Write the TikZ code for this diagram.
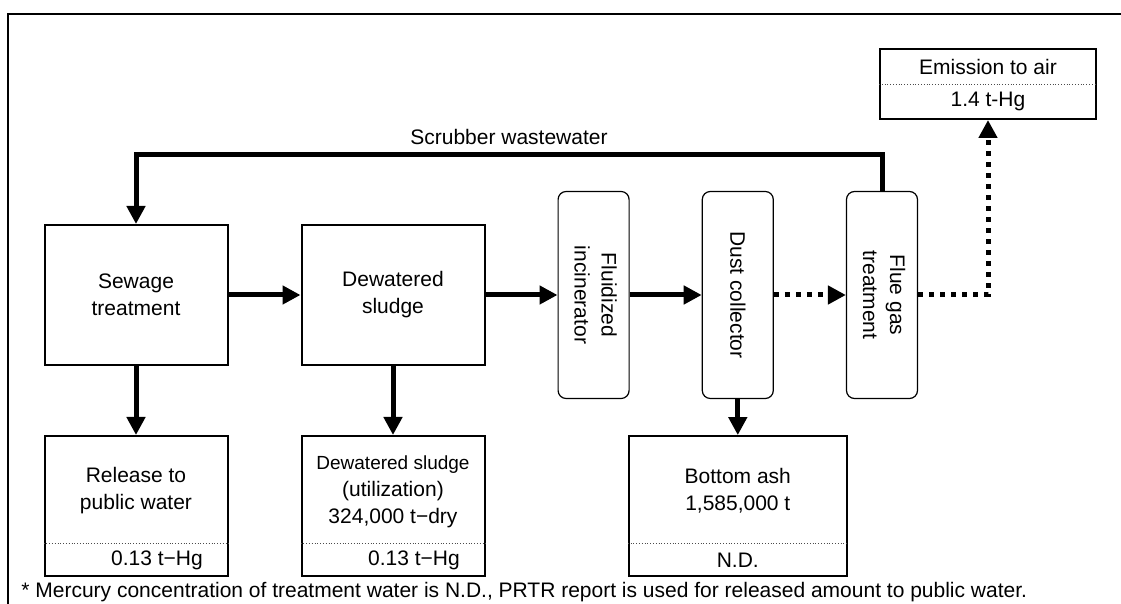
\documentclass[tikz,border=0pt]{standalone}
\usepackage{fontspec}
\setmainfont{Liberation Sans}
\usetikzlibrary{arrows.meta, positioning}
\tikzstyle{box} = [rectangle, draw, line width=1pt, minimum width=91.5pt,
  minimum height=70pt, align=center, inner sep=0pt]
\tikzstyle{unit} = [rectangle, draw, rounded corners=4pt, line width=0.6pt,
  minimum width=35.5pt, minimum height=103.5pt, inner sep=0pt]
\tikzstyle{txt} = [align=center, inner sep=0pt]
\tikzstyle{divider} = [line width=0.4pt, densely dotted, black!70]
\tikzstyle{arrow} = [line width=2.5pt, -{Triangle[length=9pt, width=9pt]}]
\tikzstyle{dotarrow} = [arrow, dash pattern=on 2.5pt off 3pt]

\begin{document}
\begin{tikzpicture}[x=0.5pt, y=-0.5pt, font=\fontsize{10.5}{13.5}\selectfont]
    \useasboundingbox (0,0) rectangle (1121,604);
    \draw[line width=0.75pt] (8,604) -- (8,14) -- (1121,14);
    % main chain
    \node[box] (sew) at (136,295) {Sewage\\ treatment};
    \node[box, right=36pt of sew] (dew) {Dewatered\\ sludge};
    \node[unit, right=36pt of dew] (inc) {\rotatebox{-90}{\begin{tabular}{@{}c@{}}Fluidized\\ incinerator\end{tabular}}};
    \node[unit, right=36pt of inc] (dust) {\rotatebox{-90}{Dust collector}};
    \node[unit, right=36pt of dust] (flue) {\rotatebox{-90}{\begin{tabular}{@{}c@{}}Flue gas\\ treatment\end{tabular}}};
    % outputs
    \node[box, below=34.5pt of sew] (rel) {};
    \node[box, below=34.5pt of dew] (util) {};
    \node[box, minimum width=109pt, below=18pt of dust] (ash) {};
    \node[box, minimum width=108pt, minimum height=35pt] (emis) at (988,84) {};
    \draw[divider] ([yshift=17pt]rel.south west) -- ([yshift=17pt]rel.south east);
    \draw[divider] ([yshift=17pt]util.south west) -- ([yshift=17pt]util.south east);
    \draw[divider] ([yshift=17pt]ash.south west) -- ([yshift=17pt]ash.south east);
    \draw[divider] (emis.west) -- (emis.east);
    \node[txt] (reltxt) at ([yshift=7.5pt]rel.center) {Release to\\ public water};
    \node[txt] (relval) at ([xshift=10.5pt, yshift=-27pt]rel.center) {0.13 t−Hg};
    \node[txt] (utiltxt) at ([yshift=7pt]util.center) {{\fontsize{9.5}{13.5}\selectfont Dewatered sludge}\\ (utilization)\\ 324,000 t−dry};
    \node[txt] (utilval) at ([xshift=10.5pt, yshift=-27pt]util.center) {0.13 t−Hg};
    \node[txt] (ashtxt) at ([yshift=7.5pt]ash.center) {Bottom ash\\ 1,585,000 t};
    \node[txt] (ashval) at ([yshift=-27pt]ash.center) {N.D.};
    \node[txt] (emistxt) at ([yshift=8.75pt]emis.center) {Emission to air};
    \node[txt] (emisval) at ([yshift=-8.75pt]emis.center) {1.4 t-Hg};
    % flows
    \draw[arrow] (sew) -- (dew);
    \draw[arrow] (dew) -- (inc);
    \draw[arrow] (inc) -- (dust);
    \draw[dotarrow] (dust) -- (flue);
    \draw[dotarrow] (flue.east) -| (emis.south);
    \draw[arrow] (sew) -- (rel);
    \draw[arrow] (dew) -- (util);
    \draw[arrow] (dust.south) -- (ash.north -| dust.south);
    \draw[arrow] (flue.north) -- ++(0,-36) -| (sew.north)
      node[pos=0.25, above, inner sep=4pt] {Scrubber wastewater};
    \node[anchor=west, inner sep=0pt] (note) at (21,592) {* Mercury concentration of treatment water is N.D., PRTR report is used for released amount to public water.};
\end{tikzpicture}
\end{document}
